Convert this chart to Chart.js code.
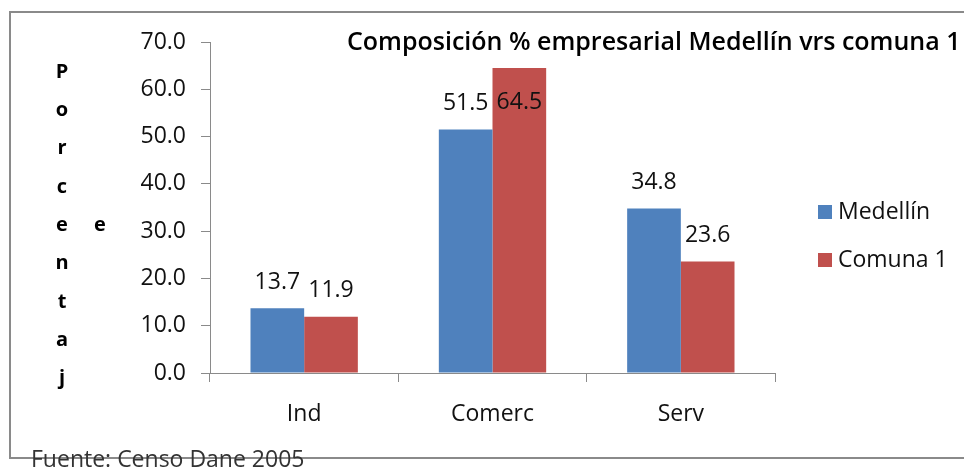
<!DOCTYPE html>
<html>
<head>
<meta charset="utf-8">
<script src="https://cdn.jsdelivr.net/npm/chart.js@4"></script>
<style>
  html, body { margin: 0; padding: 0; background: #fff; }
  #wrap { position: relative; width: 964px; height: 469px; }
</style>
</head>
<body>
<div id="wrap"><canvas id="empresasChart"></canvas></div>
<script>
const categories = ["Ind", "Comerc", "Serv"];
const medellin = [13.7, 51.5, 34.8];
const comuna1 = [11.9, 64.5, 23.6];
const seriesNames = ["Medellín", "Comuna 1"];
const chartTitle = "Composición % empresarial Medellín vrs comuna 1";
const axisTitle = "Porcentaje";
const sourceNote = "Fuente: Censo Dane 2005";

const FONT = "'Open Sans', sans-serif";

// frame, title, vertical axis title, legend, footer and value labels
const decorations = {
  id: "decorations",
  beforeDraw(chart) {
    const ctx = chart.ctx;
    ctx.save();
    ctx.strokeStyle = "#8a8a8a";
    ctx.lineWidth = 2;
    ctx.strokeRect(10, 12, 980, 446);
    ctx.restore();
  },
  afterDatasetsDraw(chart) {
    const ctx = chart.ctx;
    const area = chart.chartArea;
    ctx.save();
    ctx.font = "23px " + FONT;
    ctx.fillStyle = "#111";
    ctx.textAlign = "center";
    ctx.textBaseline = "middle";
    chart.data.datasets.forEach((ds, i) => {
      chart.getDatasetMeta(i).data.forEach((bar, j) => {
        let y = bar.y - 26;
        if (y - 14 < area.top + 10) y = bar.y + 34;
        ctx.fillText(ds.data[j].toFixed(1), bar.x, y);
      });
    });
    ctx.restore();
  },
  afterDraw(chart) {
    const ctx = chart.ctx;
    ctx.save();
    ctx.fillStyle = "#000";
    ctx.textBaseline = "middle";

    ctx.font = "600 25px " + FONT;
    ctx.textAlign = "left";
    ctx.fillText(chartTitle, 347, 43);

    ctx.font = "bold 20px " + FONT;
    ctx.textAlign = "center";
    const letters = axisTitle.slice(0, 9).split("");
    letters.forEach((ch, k) => ctx.fillText(ch, 62, 72 + k * 38.3));
    ctx.fillText(axisTitle.slice(9), 100, 225);

    ctx.font = "23px " + FONT;
    ctx.textAlign = "left";
    chart.data.datasets.forEach((ds, i) => {
      const cy = 212 + i * 48;
      ctx.fillStyle = ds.backgroundColor;
      ctx.fillRect(818, cy - 7, 14, 14);
      ctx.fillStyle = "#111";
      ctx.fillText(ds.label, 838, cy);
    });

    ctx.fillStyle = "#333";
    ctx.textBaseline = "alphabetic";
    ctx.fillText(sourceNote, 31, 467);
    ctx.restore();
  }
};

new Chart(document.getElementById("empresasChart"), {
  type: "bar",
  data: {
    labels: categories,
    datasets: [
      { label: seriesNames[0], data: medellin, backgroundColor: "#4f81bd" },
      { label: seriesNames[1], data: comuna1, backgroundColor: "#c0504d" }
    ]
  },
  options: {
    responsive: true,
    maintainAspectRatio: false,
    animation: false,
    layout: { padding: { left: 0, top: 42, right: 189, bottom: 0 } },
    plugins: {
      legend: { display: false },
      title: { display: false },
      tooltip: { enabled: false }
    },
    datasets: {
      bar: { barPercentage: 1.0, categoryPercentage: 0.57 }
    },
    scales: {
      x: {
        offset: true,
        grid: { offset: true, drawOnChartArea: false, tickLength: 9, color: "#8a8a8a" },
        border: { color: "#8a8a8a", width: 1 },
        ticks: { font: { family: FONT, size: 23 }, color: "#111", padding: 19 },
        afterFit(scale) { scale.height = 96; }
      },
      y: {
        min: 0,
        max: 70,
        ticks: {
          stepSize: 10,
          font: { family: FONT, size: 23 },
          color: "#111",
          padding: 15,
          callback: (v) => v.toFixed(1)
        },
        grid: { drawOnChartArea: false, tickLength: 9, color: "#8a8a8a" },
        border: { color: "#8a8a8a", width: 1 },
        afterFit(scale) { scale.width = 210; }
      }
    }
  },
  plugins: [decorations]
});
</script>
</body>
</html>
